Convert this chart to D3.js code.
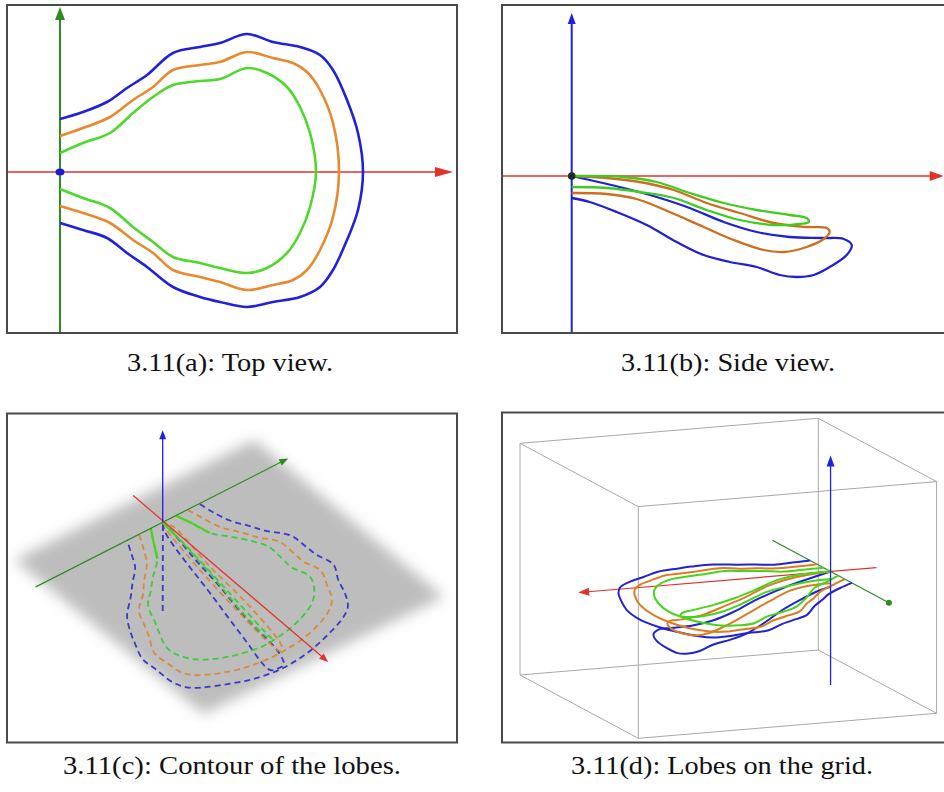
<!DOCTYPE html>
<html><head><meta charset="utf-8">
<script src="https://cdn.jsdelivr.net/npm/d3@7"></script>
<style>body{margin:0;background:#fff}svg{display:block}</style>
</head><body>
<svg id="fig" width="944" height="792"></svg>
<script>
// ---------------- DATA ----------------
const lobeNames = ["blue", "orange", "green"];
// Top view: [distance along red axis, distance along green axis]
const topBlue = [[0,53],[23,60],[47,70],[67,84],[87,97],[113,119],[140,125],[160,129],[187,138],[213,130],[240,125],[260,117],[273,102],[287,72],[298,39],[303,0],[298,-38],[287,-68],[273,-98],[260,-115],[240,-125],[213,-130],[187,-135],[160,-130],[140,-125],[113,-115],[87,-95],[67,-81],[47,-66],[23,-58],[0,-51]];
const topOrange = [[0,36],[23,44],[50,55],[73,72],[93,85],[113,102],[140,107],[160,110],[187,120],[213,114],[233,109],[247,100],[260,82],[273,49],[279,0],[273,-45],[260,-78],[247,-98],[233,-108],[213,-113],[187,-118],[160,-110],[140,-105],[113,-98],[93,-81],[73,-68],[50,-51],[23,-41],[0,-34]];
const topGreen = [[0,19],[23,29],[50,39],[73,59],[93,75],[113,87],[140,91],[160,93],[187,104],[207,99],[227,85],[240,65],[250,39],[256,0],[250,-35],[240,-61],[227,-81],[207,-96],[187,-101],[160,-96],[140,-91],[113,-85],[93,-70],[73,-55],[50,-36],[23,-26],[0,-17]];
// Side view: [distance along red axis, height along blue axis]
const sideBlue = [[0,0],[52,-12],[85,-21],[118,-32],[152,-46],[185,-56],[218,-61],[252,-62],[272,-63],[280,-69],[275,-79],[258,-91],[242,-99],[225,-101],[208,-99],[185,-91],[158,-86],[132,-79],[105,-66],[75,-49],[45,-36],[18,-26],[0,-22]];
const sideOrange = [[0,0],[35,-2],[68,-6],[102,-14],[135,-27],[168,-37],[202,-47],[235,-51],[255,-52],[258,-56],[252,-63],[235,-71],[212,-76],[192,-74],[162,-64],[132,-51],[98,-36],[65,-23],[35,-18],[0,-17]];
const sideGreen = [[0,0],[52,-1],[85,-6],[118,-17],[152,-27],[185,-34],[218,-39],[235,-42],[237,-46],[228,-48],[202,-49],[168,-44],[135,-34],[102,-22],[68,-16],[35,-12],[0,-11]];
// Contour panel: inner dashed loops on the plane [along, across]
const fanBlue = [[0,0],[11,1.5],[73,1.7],[137,4],[212,4.2],[272,9],[298,4],[300,-6],[296,-15],[228,-14.6],[147,-11.5],[16,-5.8],[0,0]];
const fanBlueDrop = [[4,-2],[134,-76]];
const fanOrange = [[0,0],[14,-2.4],[98,-2.1],[183,1.6],[264,8.1],[276,12],[270,17],[188,17.9],[100,10.8],[14,7.1],[0,0]];
const fanGreen = [[0,0],[31.5,2.1],[110,5.3],[193,5.5],[245,9.7],[252,13],[232,11.8],[147,8.3],[53.5,4],[0,0]];
const planeCorners = [[-52,-182],[-55,162],[315,223],[313,-119]];
const redAxisC = [[-61,-7.5],[327,51]];
const greenAxisC = [[3,-183],[-3,181]];
const blueAxisC = [0, 92];
// Grid box corners (unit cube) and edges
const boxCorners = [[0,0,0],[1,0,0],[1,1,0],[0,1,0],[0,0,1],[1,0,1],[1,1,1],[0,1,1]];
const boxEdges = [[0,1],[1,2],[2,3],[3,0],[4,5],[5,6],[6,7],[7,4],[0,4],[1,5],[2,6],[3,7]];
const captions = ["3.11(a): Top view.", "3.11(b): Side view.", "3.11(c): Contour of the lobes.", "3.11(d): Lobes on the grid."];

const tops = {blue: topBlue, orange: topOrange, green: topGreen};
const sides = {blue: sideBlue, orange: sideOrange, green: sideGreen};
const fans = {blue: fanBlue, orange: fanOrange, green: fanGreen};

const colA = {blue:"#1f22d6", orange:"#e8892e", green:"#4fd82c"};
const colB = {blue:"#1f22d0", orange:"#cc6e1e", green:"#3ecc20"};
const colC = {blue:"#3a3ac4", orange:"#d88a3c", green:"#3ccc3c"};
const colD = {blue:"#2024d0", orange:"#dc7c22", green:"#46d41e"};
const RED = "#e3322c", GREENAX = "#2f8a22", BLUEAX = "#1e22e0";

// ---------------- HELPERS ----------------
const svg = d3.select("#fig");
const defs = svg.append("defs");
defs.append("filter").attr("id","soft").attr("x","-20%").attr("y","-20%").attr("width","140%").attr("height","140%")
  .append("feGaussianBlur").attr("stdDeviation", 7);

function arrow(g, p1, p2, color, w, len, hw){
  const dx = p2[0]-p1[0], dy = p2[1]-p1[1], L = Math.hypot(dx,dy);
  const ux = dx/L, uy = dy/L;
  const bx = p2[0]-ux*len, by = p2[1]-uy*len;
  g.append("line").attr("x1",p1[0]).attr("y1",p1[1]).attr("x2",bx+ux*1).attr("y2",by+uy*1)
    .attr("stroke",color).attr("stroke-width",w);
  g.append("path").attr("d", `M${p2[0]},${p2[1]}L${bx-uy*hw},${by+ux*hw}L${bx+uy*hw},${by-ux*hw}Z`)
    .attr("fill",color);
}
function frame(x,y,w,h){
  svg.append("rect").attr("x",x).attr("y",y).attr("width",w).attr("height",h)
    .attr("fill","none").attr("stroke","#4a4a4a").attr("stroke-width",2);
}
const smooth = d3.curveCatmullRom.alpha(0.5);

// ---------------- PANEL A: Top view ----------------
{
  const g = svg.append("g");
  const x = d3.scaleLinear().domain([-53, 397]).range([7, 457]);
  const y = d3.scaleLinear().domain([-161, 168]).range([333, 4]);
  arrow(g, [x(-53), y(0)], [x(393), y(0)], RED, 1.5, 18, 5);
  arrow(g, [x(0), y(-161)], [x(0), y(165)], GREENAX, 2, 13, 5);
  const line = d3.line().x(d=>x(d[0])).y(d=>y(d[1])).curve(smooth);
  lobeNames.forEach(n => g.append("path").attr("d", line(tops[n])).attr("fill","none")
    .attr("stroke", colA[n]).attr("stroke-width", 2.6).attr("stroke-linejoin","round"));
  g.append("ellipse").attr("cx",x(0)).attr("cy",y(0)).attr("rx",4.5).attr("ry",3.5).attr("fill","#1a1ad8");
  frame(7, 5, 450, 328);
}

// ---------------- PANEL B: Side view ----------------
{
  const g = svg.append("g");
  const x = d3.scaleLinear().domain([-70, 375]).range([501.7, 946.7]);
  const y = d3.scaleLinear().domain([-157, 172]).range([333, 4]);
  arrow(g, [x(-70), y(0)], [x(372), y(0)], RED, 1.5, 14, 5);
  arrow(g, [x(0), y(-157)], [x(0), y(163)], BLUEAX, 2, 11, 4);
  const line = d3.line().x(d=>x(d[0])).y(d=>y(d[1])).curve(smooth);
  ["blue","orange","green"].forEach(n => g.append("path").attr("d", line(sides[n])).attr("fill","none")
    .attr("stroke", colB[n]).attr("stroke-width", 2.3).attr("stroke-linejoin","round"));
  g.append("circle").attr("cx",x(0)).attr("cy",y(0)).attr("r",3.8).attr("fill","#1e2e1e");
  frame(502, 5, 450, 328);
}

// ---------------- PANEL C: Contour of the lobes ----------------
{
  const g = svg.append("g");
  const O = [162.7, 522.3], A = [0.397, 0.481], B = [0.70, -0.345];
  const su = d3.scaleLinear().domain([0, 1]).range([0, 1]);
  const pc = d => [O[0] + A[0]*su(d[0]) + B[0]*su(d[1]), O[1] + A[1]*su(d[0]) + B[1]*su(d[1])];
  g.append("path").attr("d", "M" + planeCorners.map(pc).join("L") + "Z")
    .attr("fill","#bdbdbd").attr("filter","url(#soft)");
  const line = d3.line().x(d=>pc(d)[0]).y(d=>pc(d)[1]).curve(smooth);
  const dash = "6,4";
  lobeNames.forEach(n => {
    g.append("path").attr("d", line(tops[n])).attr("fill","none").attr("stroke", colC[n])
      .attr("stroke-width",1.8).attr("stroke-dasharray",dash);
    g.append("path").attr("d", line(fans[n])).attr("fill","none").attr("stroke", colC[n])
      .attr("stroke-width",1.8).attr("stroke-dasharray",dash);
  });
  g.append("path").attr("d", line(fanBlueDrop)).attr("fill","none").attr("stroke", colC.blue)
    .attr("stroke-width",1.8).attr("stroke-dasharray",dash);
  const solid = [topGreen.slice(0,3), topGreen.slice(-3), fanGreen.slice(0,2)];
  solid.forEach(s => g.append("path").attr("d", line(s)).attr("fill","none")
    .attr("stroke","#44d61e").attr("stroke-width",2.2));
  arrow(g, pc(greenAxisC[0]), pc(greenAxisC[1]), GREENAX, 1.2, 9, 3.5);
  arrow(g, pc(redAxisC[0]), pc(redAxisC[1]), RED, 1.2, 9, 3.5);
  arrow(g, pc([0,0]), [pc([0,0])[0], pc([0,0])[1]-blueAxisC[1]], BLUEAX, 1.3, 9, 3.5);
  frame(7, 413.5, 450, 329);
}

// ---------------- PANEL D: Lobes on the grid ----------------
{
  const g = svg.append("g");
  const P0 = [520, 675], ex = [298.3, -25], ey = [118.3, 63.3], ez = [0, -231.7];
  const sx = d3.scaleLinear().domain([0,1]).range([0,1]);
  const pd = (X,Y,Z) => [P0[0] + sx(X)*ex[0] + sx(Y)*ey[0] + sx(Z)*ez[0],
                         P0[1] + sx(X)*ex[1] + sx(Y)*ey[1] + sx(Z)*ez[1]];
  const org = [0.846, 0.492, 0.49];
  const k = [0.00212, 0.0034, 0.0030];
  const tilt = -0.15;
  const lp = (u,v,w) => pd(org[0] - u*k[0], org[1] + v*k[1], org[2] + w*k[2]);
  boxEdges.forEach(e => {
    const a = pd(...boxCorners[e[0]]), b = pd(...boxCorners[e[1]]);
    g.append("line").attr("x1",a[0]).attr("y1",a[1]).attr("x2",b[0]).attr("y2",b[1])
      .attr("stroke","#a8a8a8").attr("stroke-width",1);
  });
  arrow(g, pd(1.0, org[1], org[2]), pd(0.0, org[1], org[2]), RED, 1.2, 11, 4);
  const gA = pd(org[0], 0, org[2]), gB = pd(org[0], 0.985, org[2]);
  g.append("line").attr("x1",gA[0]).attr("y1",gA[1]).attr("x2",gB[0]).attr("y2",gB[1])
    .attr("stroke",GREENAX).attr("stroke-width",1.2);
  g.append("circle").attr("cx",gB[0]).attr("cy",gB[1]).attr("r",3).attr("fill",GREENAX);
  const line = d3.line().curve(smooth);
  lobeNames.forEach(n => {
    g.append("path").attr("d", line(tops[n].map(d => lp(d[0], d[1], tilt*d[0]))))
      .attr("fill","none").attr("stroke", colD[n]).attr("stroke-width",2);
    g.append("path").attr("d", line(sides[n].map(d => lp(d[0], 0, d[1]))))
      .attr("fill","none").attr("stroke", colD[n]).attr("stroke-width",2);
  });
  arrow(g, pd(org[0], org[1], 0), pd(org[0], org[1], 0.99), BLUEAX, 1.3, 11, 4);
  frame(502, 412.5, 450, 330);
}

// ---------------- CAPTIONS ----------------
const capPos = [[230,371,206],[728,371,214],[232,774,338],[722,774,302]];
captions.forEach((t,i) => {
  const [cx, by, w] = capPos[i];
  svg.append("text").attr("x", cx - w/2).attr("y", by).attr("textLength", w).attr("lengthAdjust","spacingAndGlyphs")
    .attr("font-family","Liberation Serif").attr("font-size", 25)
    .attr("fill","#111").text(t);
});
</script>
</body></html>
